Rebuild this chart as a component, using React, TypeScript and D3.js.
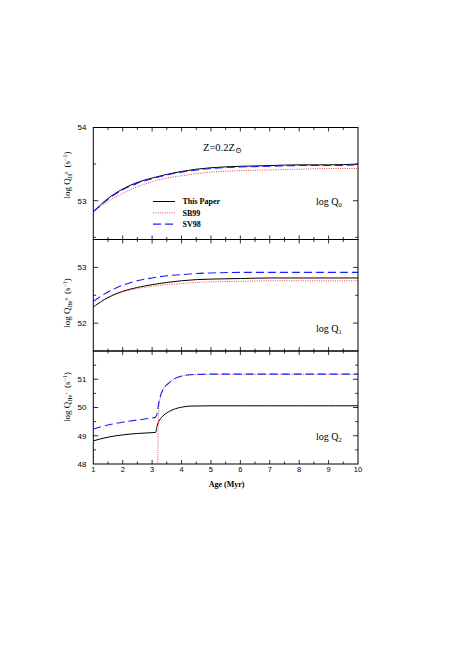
import React from "react";
import * as d3 from "d3";

// ages (Myr) shared by the smooth panels
const ages = [1, 1.5, 2, 2.5, 3, 3.5, 4, 4.5, 5, 6, 7, 8, 9, 10];

// log Q(H0)
const qH0This = [52.85, 53.03, 53.16, 53.25, 53.31, 53.36, 53.4, 53.43, 53.45, 53.47, 53.48, 53.49, 53.49, 53.5];
const qH0SB99 = [52.85, 52.99, 53.1, 53.19, 53.26, 53.31, 53.34, 53.37, 53.39, 53.41, 53.42, 53.43, 53.44, 53.44];
const qH0SV98 = [52.85, 53.02, 53.15, 53.24, 53.3, 53.35, 53.39, 53.42, 53.44, 53.46, 53.47, 53.48, 53.48, 53.49];

// log Q(He0)
const qHe0This = [52.29, 52.46, 52.57, 52.64, 52.69, 52.73, 52.76, 52.78, 52.79, 52.8, 52.81, 52.81, 52.81, 52.81];
const qHe0SB99 = [52.29, 52.45, 52.56, 52.62, 52.66, 52.69, 52.71, 52.73, 52.74, 52.75, 52.76, 52.76, 52.76, 52.76];
const qHe0SV98 = [52.39, 52.56, 52.68, 52.76, 52.81, 52.85, 52.87, 52.89, 52.9, 52.91, 52.91, 52.91, 52.91, 52.91];

// log Q(He+)
const agesHeIIThis = [1, 1.5, 2, 2.5, 3, 3.12, 3.17, 3.25, 3.37, 3.6, 3.8, 4, 4.3, 5, 6, 7, 8, 9, 10];
const qHeIIThis = [48.82, 48.95, 49.03, 49.08, 49.11, 49.12, 49.35, 49.55, 49.7, 49.87, 49.96, 50.01, 50.05, 50.06, 50.06, 50.06, 50.06, 50.06, 50.06];
const agesHeIISV98 = [1, 1.5, 2, 2.5, 3, 3.1, 3.16, 3.21, 3.27, 3.38, 3.55, 3.8, 4, 4.2, 4.5, 5, 6, 7, 8, 9, 10];
const qHeIISV98 = [49.24, 49.38, 49.48, 49.56, 49.63, 49.65, 49.75, 50.07, 50.37, 50.66, 50.85, 51.04, 51.11, 51.15, 51.17, 51.18, 51.18, 51.18, 51.18, 51.18, 51.18];
const agesHeIISB99 = [3.18, 3.2, 3.22, 3.27, 3.38, 3.55, 3.8, 4, 4.2, 4.5, 5, 6, 7, 8, 9, 10];
const qHeIISB99 = [47.0, 48.9, 49.85, 50.3, 50.64, 50.85, 51.04, 51.11, 51.15, 51.17, 51.18, 51.18, 51.18, 51.18, 51.18, 51.18];

const xTickLabels = [1, 2, 3, 4, 5, 6, 7, 8, 9, 10];

const styles = {
  this: { stroke: "#000", width: 1, dash: "none" },
  sb99: { stroke: "#ff2a2a", width: 0.9, dash: "1 1.3" },
  sv98: { stroke: "#1a1aff", width: 1.1, dash: "8 4" },
};

const serif = "'Liberation Serif', 'DejaVu Serif', serif";
const sans = "'Liberation Sans', Arial, sans-serif";

const x = d3.scaleLinear().domain([1, 10]).range([93.3, 358]);

const panels = [
  {
    id: "p0",
    top: 127.5,
    bottom: 239.5,
    domain: [52.47, 54],
    labels: [54, 53],
    sub: "H",
    sup: "0",
    labelY: 175,
    tag: "0",
    tagY: 205,
    series: [
      { key: "this", a: ages, v: qH0This },
      { key: "sb99", a: ages, v: qH0SB99 },
      { key: "sv98", a: ages, v: qH0SV98 },
    ],
  },
  {
    id: "p1",
    top: 239.5,
    bottom: 351,
    domain: [51.5, 53.5],
    labels: [53, 52],
    sub: "He",
    sup: "0",
    labelY: 303,
    tag: "1",
    tagY: 332,
    series: [
      { key: "this", a: ages, v: qHe0This },
      { key: "sb99", a: ages, v: qHe0SB99 },
      { key: "sv98", a: ages, v: qHe0SV98 },
    ],
  },
  {
    id: "p2",
    top: 351,
    bottom: 464,
    domain: [48, 52],
    labels: [51, 50, 49, 48],
    sub: "He",
    sup: "+",
    labelY: 397,
    tag: "2",
    tagY: 440,
    series: [
      { key: "this", a: agesHeIIThis, v: qHeIIThis },
      { key: "sb99", a: agesHeIISB99, v: qHeIISB99 },
      { key: "sv98", a: agesHeIISV98, v: qHeIISV98 },
    ],
  },
];

const Panel = ({ p, last }: any) => {
  const y = d3.scaleLinear().domain(p.domain).range([p.bottom, p.top]);

  // y ticks every 0.5, labels on integers
  const yTicks = d3
    .range(Math.ceil(p.domain[0] * 2) / 2, p.domain[1] + 0.001, 0.5)
    .filter((t) => y(t) > p.top + 1 && y(t) < p.bottom - 1);
  const xTicks = d3.range(1, 10.001, 0.5).filter((t) => t > 1 && t < 10);

  return (
    <g>
      <defs>
        <clipPath id={"clip-" + p.id}>
          <rect x={x(1)} y={p.top} width={x(10) - x(1)} height={p.bottom - p.top} />
        </clipPath>
      </defs>
      <g clipPath={`url(#clip-${p.id})`}>
        {p.series.map((s: any) => {
          const st = (styles as any)[s.key];
          const gen = d3
            .line<number>()
            .x((_, i) => x(s.a[i]))
            .y((d) => y(d))
            .curve(d3.curveMonotoneX);
          return (
            <path
              key={s.key}
              d={gen(s.v) || ""}
              fill="none"
              stroke={st.stroke}
              strokeWidth={st.width}
              strokeDasharray={st.dash}
            />
          );
        })}
      </g>
      {/* frame */}
      <rect x={x(1)} y={p.top} width={x(10) - x(1)} height={p.bottom - p.top} fill="none" stroke="#000" strokeWidth={1} />
      {/* x ticks top & bottom */}
      {xTicks.map((t) => {
        const len = Number.isInteger(t) ? 4 : 2.5;
        return (
          <g key={"x" + t} stroke="#000" strokeWidth={0.8}>
            <line x1={x(t)} x2={x(t)} y1={p.top} y2={p.top + len} />
            <line x1={x(t)} x2={x(t)} y1={p.bottom} y2={p.bottom - len} />
          </g>
        );
      })}
      {/* y ticks left & right */}
      {yTicks.map((t: number) => {
        const major = Math.abs(t - Math.round(t)) < 1e-6;
        const len = major ? 5 : 2.8;
        return (
          <g key={"y" + t}>
            <line x1={x(1)} x2={x(1) + len} y1={y(t)} y2={y(t)} stroke="#000" strokeWidth={0.8} />
            <line x1={x(10)} x2={x(10) - len} y1={y(t)} y2={y(t)} stroke="#000" strokeWidth={0.8} />
          </g>
        );
      })}
      {p.labels.map((t: number) => (
        <text key={"l" + t} x={86.5} y={y(t) + 2.9} textAnchor="end" fontFamily={sans} fontSize={8}>
          {t}
        </text>
      ))}
      {/* y axis label */}
      <text
        transform={`translate(70,${p.labelY}) rotate(-90)`}
        textAnchor="middle"
        fontFamily={serif}
        fontSize={9}
      >
        log Q
        <tspan fontSize={6} dy={2}>{p.sub}</tspan>
        <tspan fontSize={5} dy={-4}>{p.sup}</tspan>
        <tspan dy={2} dx={4}>(s</tspan>
        <tspan fontSize={6} dy={-3.5}>−1</tspan>
        <tspan dy={3.5}>)</tspan>
      </text>
      {/* panel tag */}
      <text x={316} y={p.tagY} fontFamily={serif} fontSize={10}>
        log  Q
        <tspan fontSize={6.5} dy={2}>{p.tag}</tspan>
      </text>
      {last &&
        xTickLabels.map((t) => (
          <text key={t} x={x(t)} y={p.bottom + 8} textAnchor="middle" fontFamily={sans} fontSize={7.5}>
            {t}
          </text>
        ))}
    </g>
  );
};

const legendItems = [
  { key: "this", label: "This Paper" },
  { key: "sb99", label: "SB99" },
  { key: "sv98", label: "SV98" },
];

export default function App() {
  return (
    <svg
      width={452}
      height={658}
      style={{ position: "absolute", left: 0, top: 0, background: "#fff" }}
    >
      {panels.map((p, i) => (
        <Panel key={p.id} p={p} last={i === panels.length - 1} />
      ))}
      {/* metallicity */}
      <text x={203} y={150.5} fontFamily={serif} fontSize={10.5}>
        Z=0.2Z
        <tspan fontSize={8} dy={2}>⊙</tspan>
      </text>
      {/* legend */}
      {legendItems.map((it, i) => {
        const st = (styles as any)[it.key];
        const ly = 201.5 + i * 11.3;
        return (
          <g key={it.key}>
            <line x1={153} x2={175} y1={ly} y2={ly} stroke={st.stroke} strokeWidth={st.width} strokeDasharray={st.dash} />
            <text x={182.5} y={ly + 2.8} fontFamily={serif} fontSize={8} fontWeight="bold">
              {it.label}
            </text>
          </g>
        );
      })}
      <text x={x(5.5) + 1} y={487} textAnchor="middle" fontFamily={serif} fontSize={8} fontWeight="bold">
        Age (Myr)
      </text>
    </svg>
  );
}
